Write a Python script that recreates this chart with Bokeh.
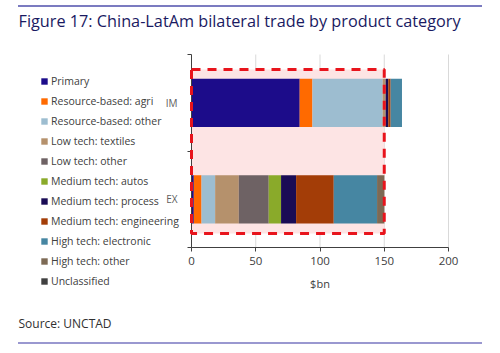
from bokeh.plotting import figure
from bokeh.models import (ColumnDataSource, Range1d, FixedTicker, Legend, LegendItem,
                          BoxAnnotation, Label, InlineStyleSheet)
from bokeh.embed import file_html
from bokeh.resources import INLINE

FONT = "Open Sans"

categories = ["Primary", "Resource-based: agri", "Resource-based: other",
              "Low tech: textiles", "Low tech: other", "Medium tech: autos",
              "Medium tech: process", "Medium tech: engineering",
              "High tech: electronic", "High tech: other", "Unclassified"]
colors = ["#1c0c8a", "#ff6a00", "#9dbdd0", "#b5916c", "#6e6264", "#8aaa2a",
          "#1a0c55", "#a33d07", "#4686a2", "#7d6a55", "#404040"]
flows = ["IM", "EX"]
im_values = [84.2, 9.9, 54.7, 2.3, 0.0, 0.0, 2.0, 1.9, 8.8, 0.0, 0.0]
ex_values = [1.8, 6.0, 10.6, 18.4, 23.3, 9.6, 11.7, 29.3, 33.7, 5.7, 0.0]
flow_pos = [1.5, 0.5]
x_ticks = [0, 50, 100, 150, 200]
highlight_max = 150

data = {"pos": flow_pos}
for i, c in enumerate(categories):
    data[c] = [im_values[i], ex_values[i]]
source = ColumnDataSource(data)

# The frame covers the whole canvas; the axes sit at fixed data locations so that
# the legend, title and source (all inside the frame) are never clipped.
W, H = 500, 353
AX_LEFT, AX_RIGHT = 191, 448      # pixel positions of x = 0 and x = 200
AX_BOTTOM, AX_TOP = 247, 54       # pixel positions of y = 0 and y = 2
sx = (AX_RIGHT - AX_LEFT) / 200.0
sy = (AX_BOTTOM - AX_TOP) / 2.0
x_range = Range1d(-AX_LEFT / sx, (W - AX_LEFT) / sx)
y_range = Range1d(-(H - AX_BOTTOM) / sy, AX_BOTTOM / sy)

p = figure(width=W, height=H, output_backend="svg", toolbar_location=None,
           x_range=x_range, y_range=y_range,
           min_border_left=0, min_border_right=0, min_border_top=0,
           min_border_bottom=0)
p.outline_line_color = None
p.background_fill_color = "white"
p.border_fill_color = "white"

# vertical grid lines only over the plotting area
p.xgrid.grid_line_color = None
p.ygrid.grid_line_color = None
p.segment(x0=x_ticks[1:], y0=[0] * 4, x1=x_ticks[1:], y1=[2] * 4,
          line_color="#d9d9d9", line_width=1, level="underlay")

# highlight box fill (behind bars)
p.add_layout(BoxAnnotation(left=0, right=highlight_max, bottom=0.145, top=1.845,
                           fill_color="#fde4e4", fill_alpha=1.0, line_color=None,
                           level="underlay"))

renderers = p.hbar_stack(categories, y="pos", height=0.5, color=colors,
                         source=source, line_color=None)

# dashed outline on top
p.add_layout(BoxAnnotation(left=0, right=highlight_max, bottom=0.145, top=1.845,
                           fill_alpha=0, line_color="#e8141c", line_alpha=1.0,
                           line_width=3, line_dash="9 7", level="overlay"))

# axes
p.xaxis.fixed_location = 0
p.xaxis.bounds = (0, 200)
p.xaxis.ticker = FixedTicker(ticks=x_ticks)
p.xaxis.axis_label = "$bn"
p.xaxis.axis_label_text_font = FONT
p.xaxis.axis_label_text_font_style = "normal"
p.xaxis.axis_label_text_font_size = "11px"
p.xaxis.axis_label_text_color = "#404040"
p.xaxis.axis_label_standoff = 8
p.xaxis.major_label_text_font = FONT
p.xaxis.major_label_text_font_size = "11.5px"
p.xaxis.major_label_text_color = "#404040"
p.xaxis.major_tick_out = 4
p.xaxis.major_tick_in = 0
p.xaxis.minor_tick_out = 0
p.xaxis.axis_line_color = "#404040"
p.xaxis.major_tick_line_color = "#404040"

p.yaxis.fixed_location = 0
p.yaxis.bounds = (0, 2)
p.yaxis.ticker = FixedTicker(ticks=flow_pos, minor_ticks=[0, 1, 2])
p.yaxis.major_label_overrides = {flow_pos[0]: flows[0], flow_pos[1]: flows[1]}
p.yaxis.major_tick_out = 0
p.yaxis.major_tick_in = 0
p.yaxis.minor_tick_out = 4
p.yaxis.minor_tick_in = 0
p.yaxis.major_label_standoff = 10
p.yaxis.major_label_text_font = FONT
p.yaxis.major_label_text_font_size = "10px"
p.yaxis.major_label_text_color = "#606060"
p.yaxis.axis_line_color = "#404040"
p.yaxis.minor_tick_line_color = "#404040"

# legend
items = [LegendItem(label=c, renderers=[r]) for c, r in zip(categories, renderers)]
legend = Legend(items=items, location=(40, H - 291), orientation="vertical",
                label_text_font=FONT, label_text_font_size="10.5px",
                label_text_color="#404040", glyph_width=8, glyph_height=8,
                label_height=20, spacing=0, padding=0, margin=0,
                label_standoff=3, background_fill_alpha=0, border_line_color=None)
p.add_layout(legend, "center")

# title and source
p.add_layout(Label(x=18, y=H - 20, x_units="screen", y_units="screen",
                   text="Figure 17: China-LatAm bilateral trade by product category",
                   text_font=FONT, text_font_size="16.25px", text_baseline="middle",
                   text_color="#1a1a62"))
p.add_layout(Label(x=18, y=H - 323, x_units="screen", y_units="screen",
                   text="Source: UNCTAD", text_font=FONT, text_font_size="12px",
                   text_baseline="middle", text_color="#303030"))

# decorative rules above the title and below the source
p.stylesheets = [InlineStyleSheet(css="""
:host { position: relative; }
:host::before { content: ''; position: absolute; left: 18px; top: 5px; width: 464px;
  height: 2px; background: #7b7bc0; z-index: 10; pointer-events: none; }
:host::after { content: ''; position: absolute; left: 18px; top: 342px; width: 464px;
  height: 2px; background: #9a98d0; z-index: 10; pointer-events: none; }
""")]

open("out.html", "w").write(file_html(p, INLINE))
